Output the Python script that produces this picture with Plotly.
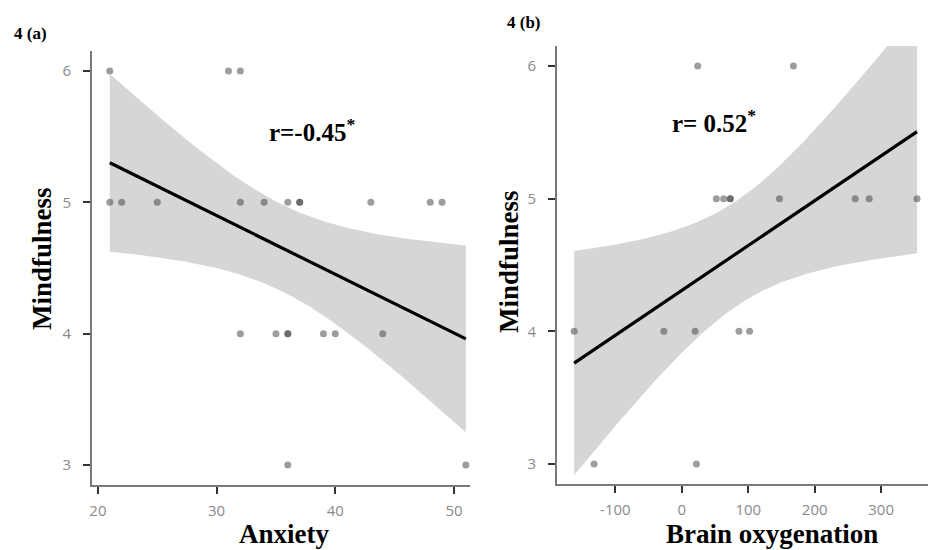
import numpy as np
import plotly.graph_objects as go

# ---- data ----
anxiety = [21, 31, 32,
           21, 22, 25, 32, 34, 36, 37, 37, 43, 48, 49,
           32, 35, 36, 36, 39, 40, 44,
           36, 51]
mind_a = [6, 6, 6,
          5, 5, 5, 5, 5, 5, 5, 5, 5, 5, 5,
          4, 4, 4, 4, 4, 4, 4,
          3, 3]

brain_oxy = [24, 168,
             52, 63, 73, 73, 147, 261, 282, 354,
             -162, -27, 20, 86, 102,
             -132, 22]
mind_b = [6, 6,
          5, 5, 5, 5, 5, 5, 5, 5,
          4, 4, 4, 4, 4,
          3, 3]

# two-sided 95% t critical values for df = n - 2
t_crit = {21: 2.080, 15: 2.131}

x_ticks_a = [20, 30, 40, 50]
x_ticklabels_a = ["20", "30", "40", "50"]
x_ticks_b = [-100, 0, 100, 200, 300]
x_ticklabels_b = ["-100", "0", "100", "200", "300"]
y_ticks = [3, 4, 5, 6]
y_ticklabels = ["3", "4", "5", "6"]

label_a = "r=-0.45<sup>*</sup>"
label_b = "r= 0.52<sup>*</sup>"


def fit_band(x, y):
    x = np.asarray(x, float)
    y = np.asarray(y, float)
    n = len(x)
    mx, my = x.mean(), y.mean()
    sxx = ((x - mx) ** 2).sum()
    b = ((x - mx) * (y - my)).sum() / sxx
    a = my - b * mx
    s = np.sqrt(((y - a - b * x) ** 2).sum() / (n - 2))
    xs = np.linspace(x.min(), x.max(), 120)
    yh = a + b * xs
    se = s * np.sqrt(1.0 / n + (xs - mx) ** 2 / sxx)
    t = t_crit[n - 2]
    return xs, yh, yh - t * se, yh + t * se


W, H = 928, 550
band_col = "rgb(214,214,214)"
pt_col = "rgba(60,60,60,0.5)"

fig = go.Figure()


def add_panel(x, y, xa, ya):
    xs, yh, lo, hi = fit_band(x, y)
    fig.add_trace(go.Scatter(x=list(xs) + list(xs[::-1]), y=list(hi) + list(lo[::-1]),
                             fill="toself", fillcolor=band_col, line=dict(width=0),
                             mode="lines", hoverinfo="skip", showlegend=False,
                             xaxis=xa, yaxis=ya))
    fig.add_trace(go.Scatter(x=x, y=y, mode="markers",
                             marker=dict(size=7, color=pt_col, line=dict(width=0)),
                             showlegend=False, xaxis=xa, yaxis=ya))
    fig.add_trace(go.Scatter(x=xs, y=yh, mode="lines",
                             line=dict(color="black", width=3.2),
                             showlegend=False, xaxis=xa, yaxis=ya))


add_panel(anxiety, mind_a, "x", "y")
add_panel(brain_oxy, mind_b, "x2", "y2")

tickfont = dict(family="Open Sans, Noto Sans, sans-serif", size=15, color="#8a8a8a")
axis_common = dict(showgrid=False, zeroline=False, showline=True, linecolor="#7a7a7a",
                   linewidth=2, ticks="outside", ticklen=7, tickwidth=2,
                   tickcolor="#333333", tickfont=tickfont,
                   automargin=False, tickmode="array")

fig.update_layout(
    width=W, height=H,
    margin=dict(l=0, r=0, t=0, b=0, autoexpand=False),
    paper_bgcolor="white", plot_bgcolor="white",
    xaxis=dict(domain=[92 / W, 470 / W], range=[19.5, 51.35], tickvals=x_ticks_a,
               ticktext=x_ticklabels_a, anchor="y", ticklabelstandoff=4, **axis_common),
    yaxis=dict(domain=[1 - 484.7 / H, 1 - 51.3 / H], range=[2.85, 6.15], tickvals=y_ticks,
               ticktext=y_ticklabels, anchor="x", ticklabelstandoff=9, **axis_common),
    xaxis2=dict(domain=[557 / W, 1.0], range=[-187.8, 370.5], tickvals=x_ticks_b,
                ticktext=x_ticklabels_b, anchor="y2", ticklabelstandoff=4, **axis_common),
    yaxis2=dict(domain=[1 - 483.9 / H, 1 - 46.1 / H], range=[2.85, 6.15], tickvals=y_ticks,
                ticktext=y_ticklabels, anchor="x2", ticklabelstandoff=9, **axis_common),
)

serif = "Liberation Serif, Times New Roman, serif"


def ann(text, px, py, size, angle=0):
    fig.add_annotation(text=text, x=px / W, y=1 - py / H, xref="paper", yref="paper",
                       xanchor="center", yanchor="middle", showarrow=False, borderpad=0,
                       textangle=angle, font=dict(family=serif, size=size, color="black"))


ann("<b>4 (a)</b>", 30, 33, 17)
ann("<b>4 (b)</b>", 524, 22, 17)
ann("<b>" + label_a + "</b>", 312, 130, 25)
ann("<b>" + label_b + "</b>", 714, 121, 25)
ann("<b>Mindfulness</b>", 42, 259, 27, -90)
ann("<b>Mindfulness</b>", 509, 262, 27, -90)
ann("<b>Anxiety</b>", 284, 534, 27)
ann("<b>Brain oxygenation</b>", 772, 534, 27)

fig.write_html("out.html", config={"displayModeBar": False},
               post_script="document.body.style.margin='0';document.body.style.overflow='hidden';")
